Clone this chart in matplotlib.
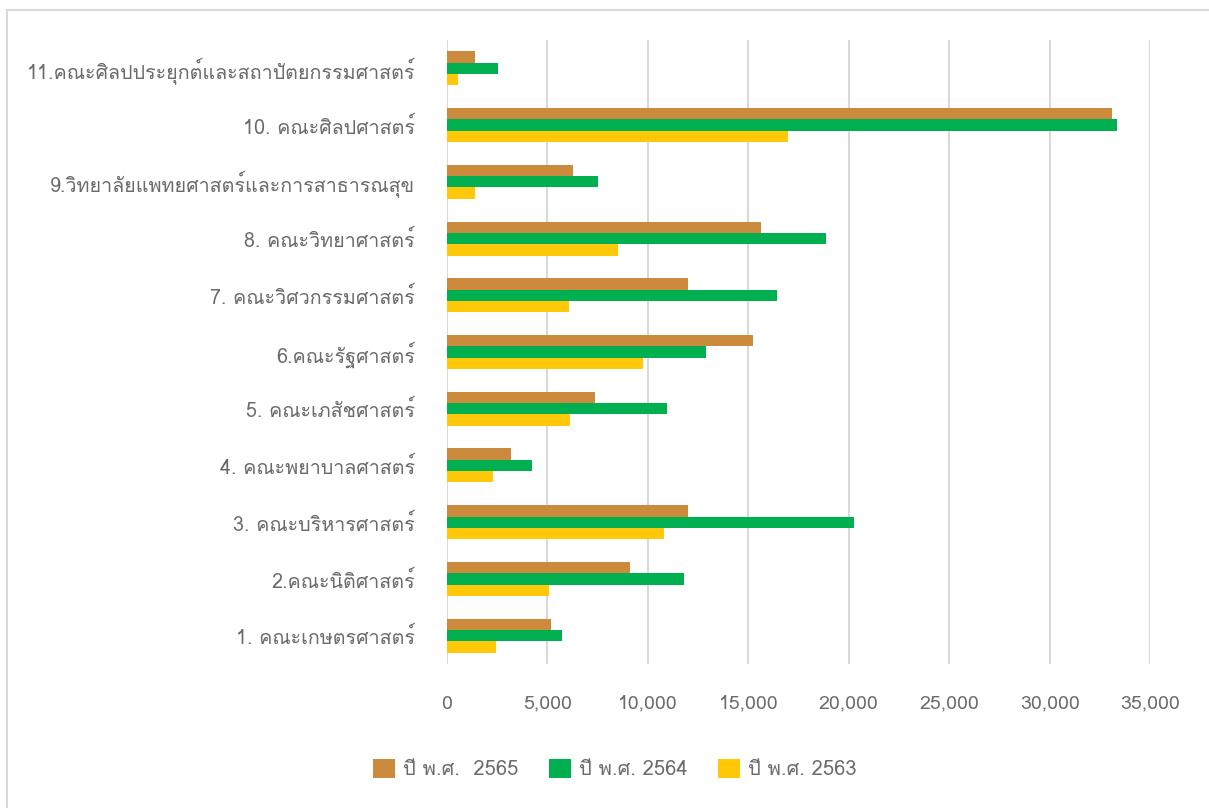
import numpy as np
import matplotlib
matplotlib.use("Agg")
import matplotlib.pyplot as plt
from matplotlib import font_manager
from matplotlib.ft2font import FT2Font
from matplotlib.patches import Rectangle

# ── Datos ────────────────────────────────────────────────────────────────────
faculties = [
    "1. คณะเกษตรศาสตร์",
    "2.คณะนิติศาสตร์",
    "3. คณะบริหารศาสตร์",
    "4. คณะพยาบาลศาสตร์",
    "5. คณะเภสัชศาสตร์",
    "6.คณะรัฐศาสตร์",
    "7. คณะวิศวกรรมศาสตร์",
    "8. คณะวิทยาศาสตร์",
    "9.วิทยาลัยแพทยศาสตร์และการสาธารณสุข",
    "10. คณะศิลปศาสตร์",
    "11.คณะศิลปประยุกต์และสถาปัตยกรรมศาสตร์",
]
y2565 = [5200, 9130, 12020, 3200, 7390, 15210, 11990, 15620, 6280, 33120, 1410]
y2564 = [5730, 11800, 20250, 4240, 10940, 12870, 16430, 18860, 7520, 33380, 2540]
y2563 = [2430, 5080, 10780, 2290, 6110, 9750, 6090, 8530, 1410, 16970, 560]
series_labels = ["ปี พ.ศ.  2565", "ปี พ.ศ. 2564", "ปี พ.ศ. 2563"]
xticks = [0, 5000, 10000, 15000, 20000, 25000, 30000, 35000]

# ── Paleta ───────────────────────────────────────────────────────────────────
BROWN = "#cc8b3c"
GREEN = "#00b050"
YELLOW = "#ffc90a"
GRID = "#d9d9d9"
TEXT = "#6b6b6b"


def thai_font():
    """Primer font instalado que tenga glifos tailandeses."""
    for f in font_manager.fontManager.ttflist:
        try:
            if ord("ค") in FT2Font(f.fname).get_charmap():
                return f.name
        except Exception:
            pass
    return "DejaVu Sans"


plt.rcParams["font.family"] = [thai_font(), "DejaVu Sans"]

fig = plt.figure(figsize=(12.09, 8.08), dpi=100)
ax = fig.add_axes([447 / 1209, 1 - 664 / 808, (1150 - 447) / 1209, (664 - 40) / 808])

# marco exterior del gráfico
fig.patches.append(Rectangle((7 / 1209, -0.1), 1.2, 1 - 10 / 808 + 0.1,
                             transform=fig.transFigure, fill=False,
                             edgecolor=GRID, lw=1.5))

y = np.arange(len(faculties))
h = 0.2
ax.barh(y + h, y2565, height=h, color=BROWN, label=series_labels[0], zorder=3)
ax.barh(y, y2564, height=h, color=GREEN, label=series_labels[1], zorder=3)
ax.barh(y - h, y2563, height=h, color=YELLOW, label=series_labels[2], zorder=3)

ax.set_ylim(-0.5, len(faculties) - 0.5)
ax.set_xlim(0, 35000)
ax.set_yticks(y)
ax.set_yticklabels(faculties, fontsize=14.2, color=TEXT)
ax.set_xticks(xticks)
ax.set_xticklabels([f"{v:,}" for v in xticks], fontsize=14, color=TEXT)
ax.tick_params(length=0)
ax.tick_params(axis="x", pad=22)
ax.tick_params(axis="y", pad=23)
ax.grid(axis="x", color=GRID, lw=1.5, zorder=0)
for s in ax.spines.values():
    s.set_visible(False)

fig.legend(loc="center", bbox_to_anchor=(615 / 1209, 1 - 769 / 808), ncol=3,
           frameon=False, fontsize=14.5, labelcolor=TEXT, handlelength=1.1,
           handleheight=1.1, handletextpad=0.4, columnspacing=1.5)

fig.savefig("out.png", dpi=100, facecolor="white")
